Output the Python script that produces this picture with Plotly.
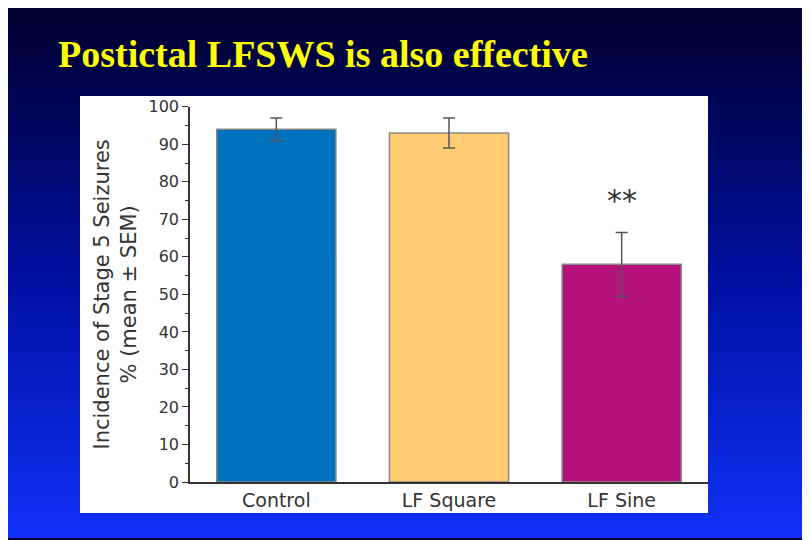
import plotly.graph_objects as go
import numpy as np

groups = ["Control", "LF Square", "LF Sine"]
means = [94, 93, 58]
sems = [3, 4, 8.5]
bar_colors = ["#0071BC", "#FFCC73", "#B5127D"]

W, H = 810, 540
fig = go.Figure()

# slide background gradient (dark navy at top -> bright blue at bottom)
rows = np.arange(0, H + 1, 10)
fig.add_trace(go.Heatmap(
    x=[0, W], y=rows, z=[[r, r] for r in rows],
    colorscale=[[0, "#000030"], [0.5, "#0010A0"], [1, "#1030F8"]],
    showscale=False, hoverinfo="skip", xaxis="x", yaxis="y"))

# white panel behind the chart
fig.add_trace(go.Scatter(
    x=[72, 700, 700, 72, 72], y=[82, 82, 514, 514, 82], fill="toself",
    fillcolor="white", line=dict(width=0), mode="lines",
    hoverinfo="skip", showlegend=False, xaxis="x", yaxis="y"))

fig.add_trace(go.Bar(
    x=groups, y=means, marker=dict(color=bar_colors, line=dict(color="#888888", width=1.5)),
    error_y=dict(type="data", array=sems, color="#555555", thickness=1.5, width=6),
    width=0.69, showlegend=False, xaxis="x2", yaxis="y2"))

fig.add_annotation(x="LF Sine", y=75, xref="x2", yref="y2", text="**",
                   showarrow=False, font=dict(size=30, color="#333333", family="DejaVu Sans"))

fig.update_layout(
    width=W, height=H, margin=dict(l=0, r=0, t=0, b=0),
    paper_bgcolor="#000030", plot_bgcolor="rgba(0,0,0,0)",
    xaxis=dict(domain=[0, 1], range=[0, W], visible=False, fixedrange=True),
    yaxis=dict(domain=[0, 1], range=[H, 0], visible=False, fixedrange=True),
    xaxis2=dict(domain=[182 / W, 700 / W], anchor="y2", showline=True, linecolor="#333333",
                linewidth=1.5, ticks="", tickfont=dict(size=19, color="#333333", family="DejaVu Sans")),
    yaxis2=dict(domain=[1 - 482 / H, 1 - 93 / H], anchor="x2", range=[0, 100],
                dtick=10, ticks="outside", ticklen=6, tickcolor="#333333",
                showline=True, linecolor="#333333", linewidth=1.5, showgrid=False, zeroline=False,
                minor=dict(dtick=5, ticks="outside", ticklen=3, tickcolor="#333333"),
                tickfont=dict(size=16, color="#333333", family="DejaVu Sans"),
                title=dict(text="Incidence of Stage 5 Seizures<br>% (mean ± SEM)", standoff=6,
                           font=dict(size=21, color="#333333", family="DejaVu Sans"))),
)

fig.add_annotation(x=48 / W, y=1 - 38 / H, xref="paper", yref="paper", xanchor="left",
                   yanchor="middle", text="<b>Postictal LFSWS is also effective</b>", showarrow=False,
                   font=dict(size=38, color="#FFFF00", family="Liberation Serif"))

fig.write_html("out.html")
